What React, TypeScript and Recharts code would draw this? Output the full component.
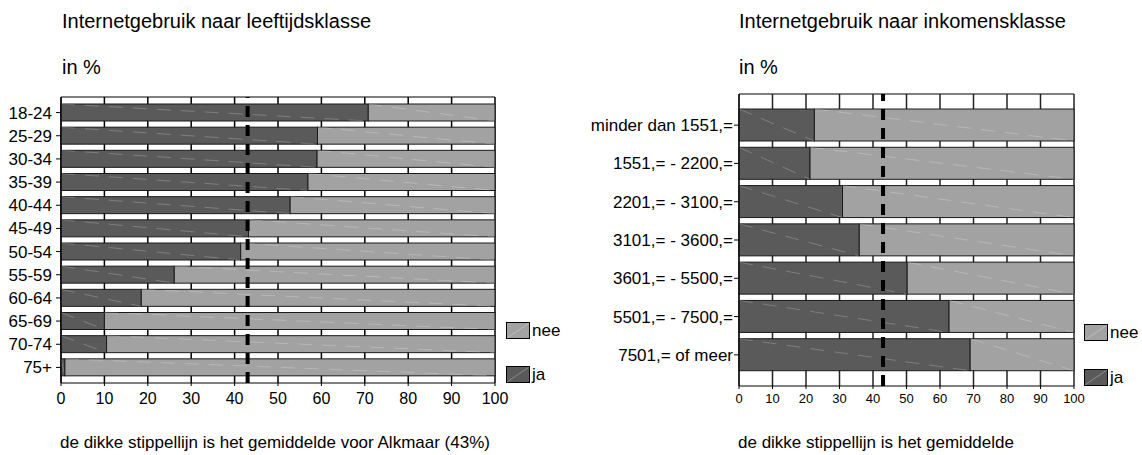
import { BarChart, Bar, XAxis, YAxis, CartesianGrid, ReferenceLine } from "recharts";

// leeftijdsklassen
const leeftijden = ["18-24", "25-29", "30-34", "35-39", "40-44", "45-49", "50-54", "55-59", "60-64", "65-69", "70-74", "75+"];
const jaLeeftijd = [70.8, 59.1, 59.0, 56.9, 52.8, 43.2, 41.4, 26.1, 18.5, 10.0, 10.5, 0.9];
const neeLeeftijd = [29.2, 40.9, 41.0, 43.1, 47.2, 56.8, 58.6, 73.9, 81.5, 90.0, 89.5, 99.1];

// inkomensklassen
const inkomens = [
    "minder dan 1551,=",
    "1551,= - 2200,=",
    "2201,= - 3100,=",
    "3101,= - 3600,=",
    "3601,= - 5500,=",
    "5501,= - 7500,=",
    "7501,= of meer",
];
const jaInkomen = [22.5, 21.2, 30.9, 35.9, 50.2, 62.7, 69.0];
const neeInkomen = [77.5, 78.8, 69.1, 64.1, 49.8, 37.3, 31.0];

const gemiddelde = 43;
const xTicks = [0, 10, 20, 30, 40, 50, 60, 70, 80, 90, 100];

const leeftijdData = leeftijden.map((k, i) => ({ klasse: k, ja: jaLeeftijd[i], nee: neeLeeftijd[i] }));
const inkomenData = inkomens.map((k, i) => ({ klasse: k, ja: jaInkomen[i], nee: neeInkomen[i] }));

const DONKER = "#5a5a5a";
const LICHT = "#a2a2a2";
const FONT = "Arial, 'Liberation Sans', sans-serif";

// alleen een lijn aan de bovenrand van het plotvlak
const rasterY = (props: any) => [props.offset.top];

// balk met een vage diagonaal, zoals in het origineel
function StreepBalk(props: any) {
    const { x, y, width, height, fill } = props;
    if (!width || width <= 0) return null;
    return (
        <g>
            <rect x={x} y={y} width={width} height={height} fill={fill} stroke="#1a1a1a" strokeWidth={1} />
            <line
                x1={x}
                y1={y}
                x2={x + width}
                y2={y + height}
                stroke="#ffffff"
                strokeOpacity={0.22}
                strokeWidth={1}
                strokeDasharray="14 10"
            />
        </g>
    );
}

function Legenda({ left, top, gap }: { left: number; top: number; gap: number }) {
    const items = [
        { naam: "nee", kleur: LICHT },
        { naam: "ja", kleur: DONKER },
    ];
    return (
        <div style={{ position: "absolute", left, top, fontFamily: FONT, fontSize: 17 }}>
            {items.map((it, i) => (
                <div key={it.naam} style={{ position: "absolute", left: 0, top: i * gap, display: "flex", alignItems: "center", whiteSpace: "nowrap" }}>
                    <svg width={24} height={17} style={{ display: "block" }}>
                        <rect x={0.5} y={0.5} width={23} height={16} fill={it.kleur} stroke="#000" />
                        <line x1={1} y1={16} x2={23} y2={1} stroke="#fff" strokeOpacity={0.3} />
                    </svg>
                    <span style={{ marginLeft: 2, lineHeight: "17px" }}>{it.naam}</span>
                </div>
            ))}
        </div>
    );
}

function Tekst({ left, top, size, children }: { left: number; top: number; size: number; children: any }) {
    return (
        <div style={{ position: "absolute", left, top, fontSize: size, lineHeight: 1, fontFamily: FONT, whiteSpace: "nowrap", color: "#000" }}>
            {children}
        </div>
    );
}

// verticale rasterlijnen achter de balken
function rasterLijnen(kleur: string) {
    return xTicks.map((t) => (
        <ReferenceLine key={"r" + t} x={t} stroke={kleur} strokeWidth={1.5} {...({ zIndex: -50 } as any)} />
    ));
}

export default function App() {
    return (
        <div style={{ position: "absolute", left: 0, top: 0, width: 1142, height: 455, background: "#fff", fontFamily: FONT, overflow: "hidden" }}>
            <Tekst left={62} top={11} size={20}>Internetgebruik naar leeftijdsklasse</Tekst>
            <Tekst left={62} top={57} size={20}>in %</Tekst>
            <Tekst left={739} top={11} size={20}>Internetgebruik naar inkomensklasse</Tekst>
            <Tekst left={739} top={57} size={20}>in %</Tekst>
            <Tekst left={60} top={434} size={17}>de dikke stippellijn is het gemiddelde voor Alkmaar (43%)</Tekst>
            <Tekst left={738} top={434} size={17}>de dikke stippellijn is het gemiddelde</Tekst>

            <div style={{ position: "absolute", left: 0, top: 0 }}>
                <BarChart
                    width={560}
                    height={455}
                    data={leeftijdData}
                    layout="vertical"
                    margin={{ top: 97, right: 65, bottom: 42, left: 0 }}
                    barSize={17}
                >
                    <CartesianGrid stroke="#000" strokeOpacity={1} vertical={false} horizontalCoordinatesGenerator={rasterY} />
                    {rasterLijnen("#000")}
                    <XAxis
                        type="number"
                        domain={[0, 100]}
                        ticks={xTicks}
                        interval={0}
                        height={30}
                        tickSize={3}
                        tickMargin={7}
                        axisLine={{ stroke: "#000" }}
                        tickLine={{ stroke: "#000" }}
                        tick={{ fill: "#000", fontSize: 16, fontFamily: FONT }}
                    />
                    <YAxis
                        type="category"
                        dataKey="klasse"
                        width={61}
                        padding={{ top: 4, bottom: 4 }}
                        interval={0}
                        tickSize={5}
                        tickMargin={4}
                        axisLine={{ stroke: "#000" }}
                        tickLine={{ stroke: "#000" }}
                        tick={{ fill: "#000", fontSize: 17, fontFamily: FONT }}
                    />
                    <Bar dataKey="ja" stackId="a" fill={DONKER} shape={StreepBalk} isAnimationActive={false} />
                    <Bar dataKey="nee" stackId="a" fill={LICHT} shape={StreepBalk} isAnimationActive={false} />
                    <ReferenceLine x={gemiddelde} stroke="#000" strokeWidth={4} strokeDasharray="11 8" />
                </BarChart>
            </div>
            <Legenda left={506} top={322} gap={44} />

            <div style={{ position: "absolute", left: 570, top: 0 }}>
                <BarChart
                    width={572}
                    height={455}
                    data={inkomenData}
                    layout="vertical"
                    margin={{ top: 94, right: 68, bottom: 44, left: 0 }}
                    barSize={32}
                >
                    <CartesianGrid stroke="#000" strokeOpacity={1} vertical={false} horizontalCoordinatesGenerator={rasterY} />
                    {rasterLijnen("#222")}
                    <XAxis
                        type="number"
                        domain={[0, 100]}
                        ticks={xTicks}
                        interval={0}
                        height={25}
                        tickSize={3}
                        tickMargin={5}
                        axisLine={{ stroke: "#000" }}
                        tickLine={{ stroke: "#000" }}
                        tick={{ fill: "#000", fontSize: 13, fontFamily: FONT }}
                    />
                    <YAxis
                        type="category"
                        dataKey="klasse"
                        width={169}
                        padding={{ top: 12, bottom: 12 }}
                        interval={0}
                        tickSize={5}
                        tickMargin={1}
                        axisLine={{ stroke: "#000" }}
                        tickLine={{ stroke: "#000" }}
                        tick={{ fill: "#000", fontSize: 17, fontFamily: FONT }}
                    />
                    <Bar dataKey="ja" stackId="a" fill={DONKER} shape={StreepBalk} isAnimationActive={false} />
                    <Bar dataKey="nee" stackId="a" fill={LICHT} shape={StreepBalk} isAnimationActive={false} />
                    <ReferenceLine x={gemiddelde} stroke="#000" strokeWidth={4} strokeDasharray="11 8" />
                </BarChart>
            </div>
            <Legenda left={1084} top={324} gap={45} />
        </div>
    );
}
